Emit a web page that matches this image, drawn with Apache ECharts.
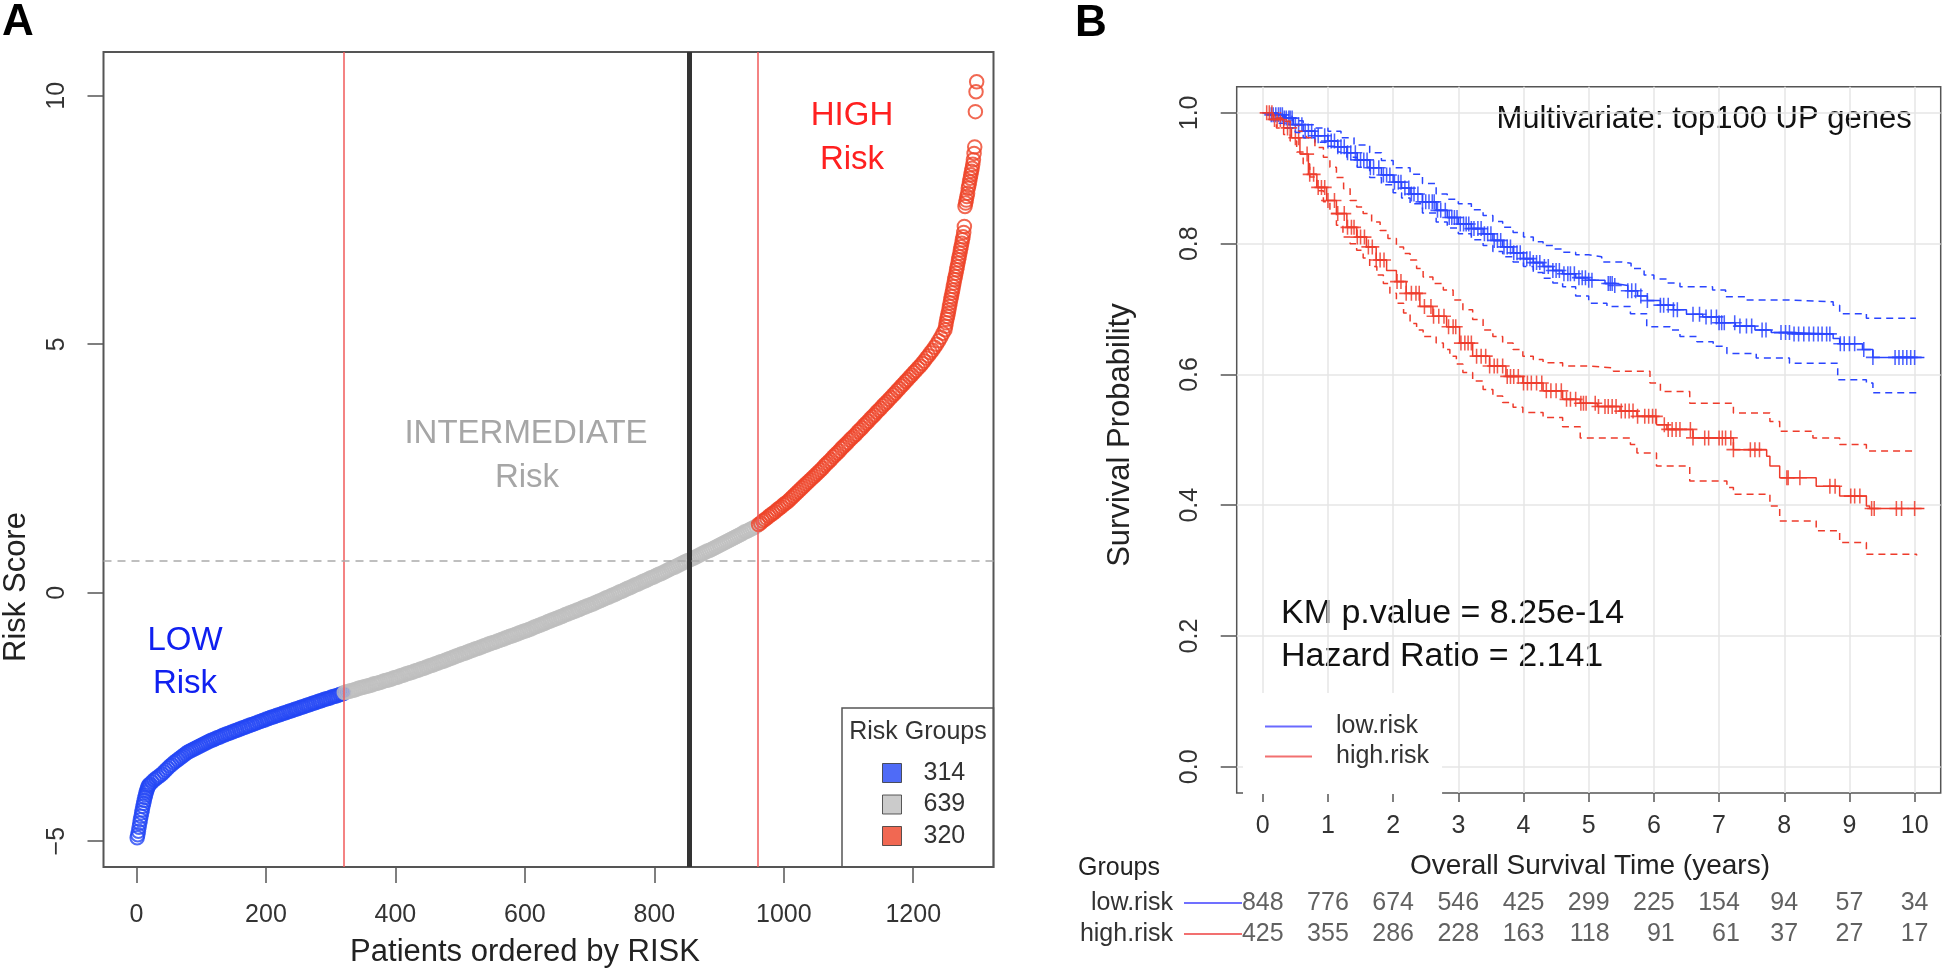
<!DOCTYPE html>
<html>
<head>
<meta charset="utf-8">
<title>Risk score groups and survival</title>
<script src="https://cdn.jsdelivr.net/npm/echarts@6/dist/echarts.min.js"></script>
<style>
html, body { margin: 0; padding: 0; background: #fff; }
#main { width: 1946px; height: 975px; }
</style>
</head>
<body>
<div id="main"></div>
<script>
// ---------- A: patients ordered by risk score ----------
// scores; tails one point at a time, the dense band every ~3rd position
var lowTailScores = [-4.93,-4.87,-4.80,-4.72,-4.64,-4.57,-4.50,-4.43,-4.37,-4.30,-4.24,-4.18,-4.12,-4.07,-4.02,-3.98,-3.94,-3.90,-3.87]; // x 1..19
var lowScores = [ // x 21..320
  -3.85,-3.81,-3.77,-3.74,-3.71,-3.68,-3.65,-3.61,-3.57,-3.53,
  -3.49,-3.46,-3.42,-3.39,-3.36,-3.33,-3.30,-3.27,-3.24,-3.21,
  -3.19,-3.17,-3.15,-3.13,-3.11,-3.09,-3.07,-3.05,-3.03,-3.01,
  -2.99,-2.97,-2.96,-2.94,-2.92,-2.91,-2.89,-2.87,-2.86,-2.84,
  -2.83,-2.81,-2.80,-2.78,-2.77,-2.75,-2.74,-2.72,-2.71,-2.69,
  -2.68,-2.66,-2.65,-2.63,-2.62,-2.60,-2.59,-2.57,-2.56,-2.54,
  -2.53,-2.51,-2.50,-2.49,-2.47,-2.46,-2.45,-2.43,-2.42,-2.41,
  -2.39,-2.38,-2.37,-2.35,-2.34,-2.33,-2.31,-2.30,-2.29,-2.27,
  -2.26,-2.25,-2.23,-2.22,-2.21,-2.19,-2.18,-2.17,-2.15,-2.14,
  -2.13,-2.12,-2.10,-2.09,-2.08,-2.07,-2.05,-2.04,-2.03];
var midScores = [ // x 321..957
  -2.01,-2.00,-1.99,-1.98,-1.97,-1.96,-1.95,-1.93,-1.92,-1.91,-1.90,-1.89,-1.88,-1.87,-1.86,
  -1.84,-1.83,-1.82,-1.81,-1.80,-1.78,-1.77,-1.76,-1.75,-1.74,-1.72,-1.71,-1.70,-1.69,-1.67,
  -1.66,-1.65,-1.63,-1.62,-1.61,-1.60,-1.58,-1.57,-1.56,-1.54,-1.53,-1.52,-1.50,-1.49,-1.47,
  -1.46,-1.45,-1.43,-1.42,-1.40,-1.39,-1.38,-1.36,-1.35,-1.33,-1.32,-1.30,-1.29,-1.27,-1.26,
  -1.24,-1.23,
  -1.22,-1.20,-1.19,-1.17,-1.16,-1.14,-1.13,-1.12,-1.10,-1.09,-1.07,-1.06,-1.04,-1.03,-1.01,
  -1.00,-0.99,-0.97,-0.96,-0.94,-0.93,-0.91,-0.90,-0.88,-0.87,-0.86,-0.84,-0.83,-0.81,-0.80,
  -0.78,-0.77,-0.76,
  -0.74,-0.73,-0.71,-0.69,-0.68,-0.66,-0.65,-0.63,-0.62,-0.60,-0.58,-0.57,-0.55,-0.54,-0.52,
  -0.51,-0.49,-0.48,-0.46,-0.44,-0.43,-0.41,-0.40,-0.38,-0.37,-0.35,-0.34,-0.32,-0.30,-0.29,
  -0.27,-0.26,-0.24,-0.23,
  -0.21,-0.19,-0.17,-0.16,-0.14,-0.12,-0.10,-0.09,-0.07,-0.05,-0.04,-0.02,0.00,0.02,0.03,
  0.05,0.07,0.09,0.10,0.12,0.14,0.16,0.17,0.19,0.21,0.23,0.24,0.26,0.28,0.30,
  0.31,0.33,0.35,
  0.37,0.38,0.40,0.42,0.44,0.46,0.48,0.50,0.51,0.53,0.55,0.57,0.59,0.61,0.63,0.65,0.66,
  0.68,0.70,0.72,0.74,0.76,0.78,0.80,0.82,0.84,0.85,0.87,0.89,0.91,0.93,0.95,0.97,0.99,
  1.01,1.03,1.05,1.07,1.09,1.11,1.13,1.15,1.17,1.19,1.22,1.23,1.25,1.27,1.29,1.31,1.33];
var highScores = [ // x 961..1249
  1.37,1.40,1.44,1.47,1.50,1.54,1.57,1.60,1.63,1.67,1.70,1.73,1.77,1.80,1.83,1.87,
  1.91,1.95,1.99,2.03,2.07,2.11,2.15,2.19,2.23,2.27,2.31,2.35,2.39,2.43,2.47,2.51,
  2.56,2.60,2.64,2.68,2.73,2.77,2.81,2.85,2.90,2.94,2.98,3.02,3.07,3.11,3.15,3.19,
  3.24,3.28,3.32,3.37,3.41,3.45,3.50,3.54,3.58,3.63,3.67,3.71,3.76,3.80,3.84,3.89,
  3.93,3.98,4.02,4.07,4.11,4.16,4.20,4.25,4.29,4.34,4.38,4.43,4.47,4.52,4.56,4.61,
  4.66,4.72,4.77,4.83,4.88,4.94,5.00,5.07,5.14,5.22,5.29];
var highTailScores = [ // x 1250..1298
  5.36,5.43,5.50,5.56,5.62,5.69,5.76,5.83,5.90,5.96,6.03,6.09,6.16,6.23,6.30,6.36,
  6.43,6.50,6.56,6.63,6.70,6.76,6.83,6.90,6.96,7.03,7.10,7.16,7.25,7.37,7.77,7.84,
  7.90,7.97,8.04,8.14,8.20,8.27,8.34,8.41,8.48,8.54,8.62,8.71,8.84,8.97,9.68,10.08,10.28];
var groupCounts = [314, 639, 320];
var groupCuts = [320, 960];   // red lines between groups, as drawn
var medianCut = 854;          // thick black line
var medianScore = 0.65;       // dashed horizontal line
var rankTicks = [0, 200, 400, 600, 800, 1000, 1200];
var scoreTicks = [-5, 0, 5, 10];

// ---------- B: Kaplan-Meier ----------
var lowKM = [[0,1],[0.12,0.997],[0.32,0.992],[0.47,0.982],[0.62,0.972],[0.8,0.965],[1.0,0.957],[1.15,0.948],[1.29,0.939],[1.45,0.928],[1.64,0.916],[1.82,0.905],[2.0,0.894],[2.13,0.885],[2.26,0.876],[2.45,0.864],[2.66,0.851],[2.83,0.840],[3.0,0.830],[3.2,0.823],[3.38,0.815],[3.53,0.805],[3.68,0.795],[3.84,0.786],[4.0,0.777],[4.15,0.771],[4.3,0.765],[4.45,0.759],[4.6,0.754],[4.8,0.748],[5.0,0.744],[5.25,0.739],[5.4,0.736],[5.6,0.728],[5.75,0.720],[5.9,0.713],[6.1,0.706],[6.3,0.699],[6.5,0.692],[6.75,0.688],[7.0,0.679],[7.25,0.674],[7.55,0.668],[7.8,0.664],[8.1,0.662],[8.75,0.655],[8.85,0.647],[9.2,0.638],[9.36,0.626],[10.15,0.626]];
var lowUpper = [[0.12,1],[0.3,0.995],[0.45,0.988],[0.62,0.982],[0.8,0.977],[1.0,0.972],[1.2,0.962],[1.4,0.951],[1.64,0.939],[1.82,0.927],[2.0,0.916],[2.26,0.906],[2.45,0.892],[2.66,0.876],[2.83,0.868],[3.0,0.861],[3.2,0.852],[3.38,0.843],[3.53,0.834],[3.68,0.825],[3.84,0.817],[4.0,0.81],[4.15,0.803],[4.3,0.797],[4.45,0.792],[4.6,0.787],[4.8,0.783],[5.0,0.78],[5.2,0.772],[5.5,0.770],[5.65,0.762],[5.85,0.752],[6.0,0.746],[6.2,0.740],[6.4,0.734],[6.9,0.729],[7.1,0.719],[7.4,0.714],[8.0,0.711],[8.75,0.706],[8.85,0.693],[9.26,0.686],[10.02,0.686]];
var lowLower = [[0.12,0.99],[0.25,0.984],[0.37,0.977],[0.5,0.97],[0.62,0.962],[0.8,0.955],[1.0,0.949],[1.15,0.94],[1.29,0.932],[1.45,0.917],[1.64,0.901],[1.82,0.89],[2.0,0.878],[2.13,0.87],[2.26,0.861],[2.45,0.847],[2.66,0.833],[2.83,0.824],[3.0,0.815],[3.2,0.806],[3.38,0.797],[3.53,0.788],[3.68,0.78],[3.84,0.772],[4.0,0.765],[4.15,0.756],[4.3,0.747],[4.45,0.74],[4.6,0.734],[4.8,0.72],[5.0,0.709],[5.28,0.704],[5.64,0.693],[5.89,0.673],[6.25,0.668],[6.4,0.658],[6.66,0.65],[6.91,0.643],[7.12,0.632],[7.57,0.625],[8.08,0.617],[8.82,0.592],[9.26,0.587],[9.36,0.572],[10.05,0.572]];
var highKM = [[0,1],[0.16,0.99],[0.32,0.977],[0.44,0.962],[0.57,0.937],[0.70,0.906],[0.83,0.886],[0.98,0.866],[1.13,0.846],[1.29,0.825],[1.44,0.81],[1.59,0.795],[1.74,0.775],[1.90,0.759],[2.05,0.742],[2.20,0.724],[2.41,0.704],[2.61,0.689],[2.82,0.673],[3.02,0.648],[3.22,0.628],[3.48,0.613],[3.73,0.597],[3.99,0.587],[4.30,0.575],[4.60,0.562],[4.87,0.556],[5.13,0.551],[5.48,0.544],[5.74,0.536],[6.04,0.523],[6.2,0.516],[6.6,0.503],[7.22,0.485],[7.73,0.475],[7.78,0.46],[7.93,0.442],[8.49,0.429],[8.85,0.414],[9.26,0.399],[9.31,0.395],[10.15,0.395]];
var highUpper = [[0.1,1],[0.16,0.992],[0.3,0.987],[0.42,0.982],[0.55,0.972],[0.67,0.962],[0.8,0.947],[0.93,0.932],[1.03,0.917],[1.13,0.901],[1.24,0.884],[1.34,0.866],[1.44,0.856],[1.54,0.846],[1.67,0.833],[1.8,0.82],[1.92,0.808],[2.05,0.795],[2.16,0.785],[2.26,0.775],[2.36,0.762],[2.46,0.749],[2.61,0.739],[2.77,0.729],[2.92,0.714],[3.07,0.699],[3.22,0.684],[3.38,0.668],[3.53,0.658],[3.68,0.648],[3.84,0.638],[3.99,0.628],[4.15,0.623],[4.3,0.618],[4.6,0.613],[5.0,0.61],[5.38,0.605],[5.94,0.587],[6.1,0.574],[6.55,0.556],[7.22,0.541],[7.78,0.528],[7.93,0.513],[8.44,0.503],[8.85,0.493],[9.26,0.483],[10.03,0.483]];
var highLower = [[0.1,0.99],[0.21,0.977],[0.32,0.967],[0.42,0.957],[0.52,0.94],[0.62,0.922],[0.72,0.902],[0.83,0.881],[0.93,0.864],[1.03,0.846],[1.13,0.828],[1.23,0.81],[1.34,0.8],[1.44,0.79],[1.54,0.778],[1.64,0.765],[1.75,0.752],[1.85,0.739],[1.95,0.724],[2.05,0.709],[2.16,0.694],[2.26,0.678],[2.36,0.668],[2.46,0.658],[2.66,0.648],[2.77,0.638],[2.87,0.628],[2.97,0.616],[3.07,0.603],[3.22,0.59],[3.38,0.577],[3.53,0.567],[3.68,0.557],[3.84,0.55],[3.99,0.542],[4.3,0.534],[4.6,0.52],[4.87,0.503],[5.64,0.493],[5.74,0.48],[6.04,0.46],[6.55,0.437],[7.12,0.427],[7.22,0.417],[7.78,0.399],[7.93,0.376],[8.49,0.361],[8.85,0.343],[9.26,0.325],[10.03,0.323]];
// censoring times (years)
var lowCensor = [0.13,0.16,0.2,0.24,0.27,0.3,0.33,0.36,0.4,0.42,0.45,0.5,0.55,0.6,0.65,0.7,0.75,0.8,0.85,0.95,1.0,1.05,1.1,1.15,1.2,1.25,1.3,1.35,1.42,1.45,1.5,1.55,1.6,1.65,1.7,1.78,1.85,1.9,1.95,2.02,2.08,2.12,2.18,2.24,2.28,2.32,2.38,2.45,2.5,2.55,2.6,2.63,2.68,2.73,2.8,2.86,2.9,2.94,2.98,3.03,3.08,3.12,3.16,3.2,3.24,3.3,3.35,3.4,3.45,3.5,3.55,3.6,3.65,3.7,3.75,3.8,3.85,3.9,3.95,4.0,4.05,4.1,4.15,4.2,4.25,4.32,4.38,4.45,4.5,4.55,4.62,4.68,4.72,4.78,4.85,4.9,4.95,5.0,5.05,5.3,5.33,5.36,5.4,5.6,5.66,5.72,5.8,5.9,6.1,6.15,6.22,6.3,6.36,6.6,6.7,6.8,6.88,6.96,7.0,7.04,7.08,7.24,7.32,7.42,7.5,7.66,7.72,7.95,8.02,8.08,8.15,8.22,8.3,8.38,8.45,8.52,8.58,8.65,8.7,8.86,8.92,9.0,9.08,9.22,9.36,9.7,9.76,9.82,9.88,9.94,10.0];
var highCensor = [0.06,0.1,0.14,0.18,0.22,0.27,0.38,0.42,0.5,0.55,0.68,0.72,0.78,0.85,0.9,0.95,1.0,1.1,1.15,1.25,1.3,1.36,1.4,1.45,1.5,1.56,1.62,1.68,1.74,1.8,1.86,2.06,2.12,2.2,2.28,2.35,2.4,2.48,2.58,2.62,2.7,2.78,2.85,2.92,2.96,3.04,3.1,3.15,3.2,3.28,3.35,3.42,3.48,3.55,3.6,3.68,3.75,3.8,3.85,3.92,4.0,4.06,4.12,4.2,4.28,4.35,4.42,4.5,4.58,4.66,4.72,4.8,4.88,4.92,4.96,5.1,5.15,5.25,5.3,5.36,5.42,5.5,5.56,5.62,5.68,5.75,5.86,5.92,5.98,6.03,6.16,6.22,6.28,6.34,6.4,6.56,6.6,6.78,6.84,7.0,7.05,7.1,7.18,7.22,7.48,7.55,7.62,8.04,8.06,8.24,8.7,8.78,9.02,9.08,9.16,9.34,9.38,9.72,9.8,10.0];
var yearTicks = [0,1,2,3,4,5,6,7,8,9,10];
var probTicks = [0, 0.2, 0.4, 0.6, 0.8, 1.0];
var lowAtRisk  = [848,776,674,546,425,299,225,154,94,57,34];
var highAtRisk = [425,355,286,228,163,118,91,61,37,27,17];

var FONT = "'Liberation Sans', Arial, Helvetica, sans-serif";
var lowColor = '#2346f5', midColor = '#bebebe', highColor = '#ee4227';
var kmBlue = '#2a45ff', kmRed = '#ee3b2b';
var frame = '#555';

function placed(start, step, scores) {
  var out = [];
  for (var i = 0; i < scores.length; i++) out.push([start + i * step, scores[i]]);
  return out;
}
// KM value at time t (step function)
function survAt(curve, t) {
  var s = curve[0][1];
  for (var i = 0; i < curve.length; i++) { if (curve[i][0] <= t) s = curve[i][1]; }
  return s;
}
function censorPoints(curve, times) {
  return times.map(function (t) { return [t, survAt(curve, t)]; });
}

var lowPts = placed(1, 1, lowTailScores).concat(placed(21, 3.05, lowScores));
var midPts = placed(321, 3, midScores);
var highPts = placed(961, 3.2, highScores).concat(placed(1250, 1, highTailScores));

function ringSeries(name, pts, color) {
  return {
    name: name, type: 'scatter', xAxisIndex: 0, yAxisIndex: 0,
    data: pts, symbol: 'circle', symbolSize: 13.5, silent: true,
    itemStyle: { color: 'rgba(0,0,0,0)', borderColor: color, borderWidth: 2 }
  };
}
function kmLine(name, data, color, dashed) {
  return {
    name: name, type: 'line', xAxisIndex: 1, yAxisIndex: 1, data: data,
    step: 'end', showSymbol: false, silent: true,
    lineStyle: { color: color, width: 1.5, type: dashed ? [7, 5] : 'solid' },
    itemStyle: { color: color }
  };
}
var plusPath = 'path://M-1,-0.11L1,-0.11L1,0.11L-1,0.11Z M-0.11,-1L0.11,-1L0.11,1L-0.11,1Z';
function censorSeries(name, pts, color) {
  return {
    name: name, type: 'scatter', xAxisIndex: 1, yAxisIndex: 1, data: pts,
    symbol: plusPath, symbolSize: [14, 15], silent: true,
    itemStyle: { color: color, opacity: 0.85 }
  };
}

// at-risk table, numbers padded like R's formatted columns
var digitW = 25 * 0.556;
var tableData = [];
yearTicks.forEach(function (t, i) {
  var w = Math.max(String(lowAtRisk[i]).length, String(highAtRisk[i]).length);
  var off = w * digitW / 2;
  tableData.push({ value: [t, 0, lowAtRisk[i]], label: { offset: [off, 0] } });
  tableData.push({ value: [t, 1, highAtRisk[i]], label: { offset: [off, 0] } });
});

function txt(x, y, text, size, color, align, extra) {
  var o = {
    type: 'text', x: x, y: y, silent: true,
    style: { text: text, font: size + 'px ' + FONT, fill: color, textAlign: align || 'center', textVerticalAlign: 'middle' }
  };
  if (extra) for (var k in extra) o[k] = extra[k];
  return o;
}
function minusLabel(v) { return v < 0 ? '\u2212' + Math.abs(v) : String(v); }

var tickStyle = { color: frame, width: 1.5 };
var chart = echarts.init(document.getElementById('main'));
var option = {
  animation: false,
  backgroundColor: '#fff',
  textStyle: { fontFamily: FONT },
  grid: [
    { left: 103.5, top: 52, width: 890, height: 815, show: true, borderColor: frame, borderWidth: 2, backgroundColor: 'rgba(0,0,0,0)' },
    { left: 1236.7, top: 86.7, width: 704, height: 706.3, show: true, borderColor: frame, borderWidth: 1.5, backgroundColor: 'rgba(0,0,0,0)' },
    { left: 1236.7, top: 887.5, width: 704, height: 62, show: false }
  ],
  xAxis: [
    { type: 'value', gridIndex: 0, min: -51, max: 1324,
      axisLine: { show: false, onZero: false }, splitLine: { show: false },
      axisTick: { show: true, length: 16, lineStyle: tickStyle, customValues: rankTicks },
      axisLabel: { customValues: rankTicks, fontSize: 25, color: '#333', margin: 36, formatter: minusLabel } },
    { type: 'value', gridIndex: 1, min: -0.4, max: 10.4,
      axisLine: { show: false, onZero: false },
      splitLine: { show: true, lineStyle: { color: '#e6e6e6', width: 1.5 } },
      axisTick: { show: true, length: 9, lineStyle: tickStyle, customValues: yearTicks },
      axisLabel: { customValues: yearTicks, fontSize: 25, color: '#333', margin: 21 } },
    { type: 'value', gridIndex: 2, min: -0.4, max: 10.4, show: false }
  ],
  yAxis: [
    { type: 'value', gridIndex: 0, min: -5.52, max: 10.88,
      axisLine: { show: false, onZero: false }, splitLine: { show: false },
      axisTick: { show: true, length: 16, lineStyle: tickStyle, customValues: scoreTicks },
      axisLabel: { customValues: scoreTicks, fontSize: 25, color: '#333', margin: 34, rotate: 90, formatter: minusLabel } },
    { type: 'value', gridIndex: 1, min: -0.04, max: 1.04,
      axisLine: { show: false, onZero: false },
      splitLine: { show: true, lineStyle: { color: '#e6e6e6', width: 1.5 } },
      axisTick: { show: true, length: 16, lineStyle: tickStyle, customValues: probTicks },
      axisLabel: { customValues: probTicks, fontSize: 25, color: '#333', margin: 34, rotate: 90,
        formatter: function (v) { return v.toFixed(1); } } },
    { type: 'category', gridIndex: 2, data: ['low.risk', 'high.risk'], inverse: true,
      axisLine: { show: false }, axisTick: { show: false },
      axisLabel: { interval: 0, fontSize: 25, color: '#333', margin: 63.7 } }
  ],
  legend: [
    { left: 882, top: 760.5, orient: 'vertical', itemWidth: 19, itemHeight: 19, itemGap: 6.5,
      selectedMode: false, padding: 0,
      data: [
        { name: 'LOW', icon: 'rect', itemStyle: { color: lowColor, borderColor: '#333', borderWidth: 1 } },
        { name: 'INTERMEDIATE', icon: 'rect', itemStyle: { color: midColor, borderColor: '#333', borderWidth: 1 } },
        { name: 'HIGH', icon: 'rect', itemStyle: { color: highColor, borderColor: '#333', borderWidth: 1 } }
      ],
      formatter: function (n) { return String(groupCounts[['LOW', 'INTERMEDIATE', 'HIGH'].indexOf(n)]); },
      textStyle: { fontSize: 25, color: '#333', padding: [0, 0, 0, 17] } },
    { left: 1243, top: 693, orient: 'vertical', itemWidth: 47, itemHeight: 2, itemGap: 5,
      selectedMode: false, padding: [21, 13, 25, 22], backgroundColor: '#fff',
      data: [
        { name: 'low.risk', icon: 'rect', itemStyle: { color: '#6a6aff' } },
        { name: 'high.risk', icon: 'rect', itemStyle: { color: '#f27070' } }
      ],
      textStyle: { fontSize: 25, color: '#333', padding: [0, 0, 0, 19] } }
  ],
  series: [
    ringSeries('LOW', lowPts, lowColor),
    ringSeries('INTERMEDIATE', midPts, midColor),
    ringSeries('HIGH', highPts, highColor),
    { name: 'cuts', type: 'line', xAxisIndex: 0, yAxisIndex: 0, data: [], z: 5, silent: true,
      markLine: { silent: true, symbol: 'none', label: { show: false }, animation: false,
        data: [
          { xAxis: groupCuts[0], lineStyle: { color: '#f05a5a', width: 1.5, type: 'solid' } },
          { xAxis: groupCuts[1], lineStyle: { color: '#f05a5a', width: 1.5, type: 'solid' } },
          { xAxis: medianCut, lineStyle: { color: '#333', width: 5, type: 'solid' } },
          { yAxis: medianScore, lineStyle: { color: '#aaa', width: 1.5, type: [8, 6] } }
        ] } },
    kmLine('low.risk upper', lowUpper, kmBlue, true),
    kmLine('low.risk lower', lowLower, kmBlue, true),
    kmLine('high.risk upper', highUpper, kmRed, true),
    kmLine('high.risk lower', highLower, kmRed, true),
    kmLine('low.risk', lowKM, kmBlue, false),
    kmLine('high.risk', highKM, kmRed, false),
    censorSeries('low.risk censored', censorPoints(lowKM, lowCensor), kmBlue),
    censorSeries('high.risk censored', censorPoints(highKM, highCensor), kmRed),
    { name: 'at risk', type: 'scatter', xAxisIndex: 2, yAxisIndex: 2, data: tableData,
      symbolSize: 1, silent: true, itemStyle: { color: 'rgba(0,0,0,0)' },
      label: { show: true, position: 'inside', align: 'right', fontSize: 25, color: '#3a3a3a',
        formatter: function (p) { return String(p.value[2]); } } }
  ],
  graphic: [
    txt(2, 23, 'A', 'bold 44', '#000', 'left'),
    txt(1075, 23.5, 'B', 'bold 44', '#000', 'left'),
    // panel A annotations
    txt(185, 640.5, 'LOW', 33, '#1020f0'),
    txt(185, 684.2, 'Risk', 33, '#1020f0'),
    txt(526, 434.2, 'INTERMEDIATE', 33, '#a6a6a6'),
    txt(527, 477.5, 'Risk', 33, '#a6a6a6'),
    txt(852, 115.8, 'HIGH', 33, '#ff2020'),
    txt(852, 160, 'Risk', 33, '#ff2020'),
    txt(16.7, 587, 'Risk Score', 31, '#222', 'center', { rotation: Math.PI / 2 }),
    txt(525, 952.5, 'Patients ordered by RISK', 31, '#222'),
    { type: 'rect', silent: true, shape: { x: 842, y: 708, width: 151.5, height: 159 },
      style: { fill: '#fff', stroke: frame, lineWidth: 1.5 }, z: -1 },
    txt(918, 731.7, 'Risk Groups', 25, '#333'),
    // panel B annotations
    txt(1911.7, 119.2, 'Multivariate: top100 UP genes', 31, '#111', 'right'),
    txt(1281, 613.3, 'KM p.value = 8.25e-14', 34, '#111', 'left'),
    txt(1281, 656.7, 'Hazard Ratio = 2.141', 34, '#111', 'left'),
    txt(1120, 435, 'Survival Probability', 31, '#222', 'center', { rotation: Math.PI / 2 }),
    txt(1590, 865.8, 'Overall Survival Time (years)', 28, '#222'),
    txt(1078, 868.3, 'Groups', 25, '#222', 'left'),
    { type: 'line', silent: true, shape: { x1: 1184, y1: 903, x2: 1242, y2: 903 }, style: { stroke: '#7070ff', lineWidth: 2 } },
    { type: 'line', silent: true, shape: { x1: 1184, y1: 934, x2: 1242, y2: 934 }, style: { stroke: '#f27070', lineWidth: 2 } }
  ]
};
chart.setOption(option);
</script>
</body>
</html>
